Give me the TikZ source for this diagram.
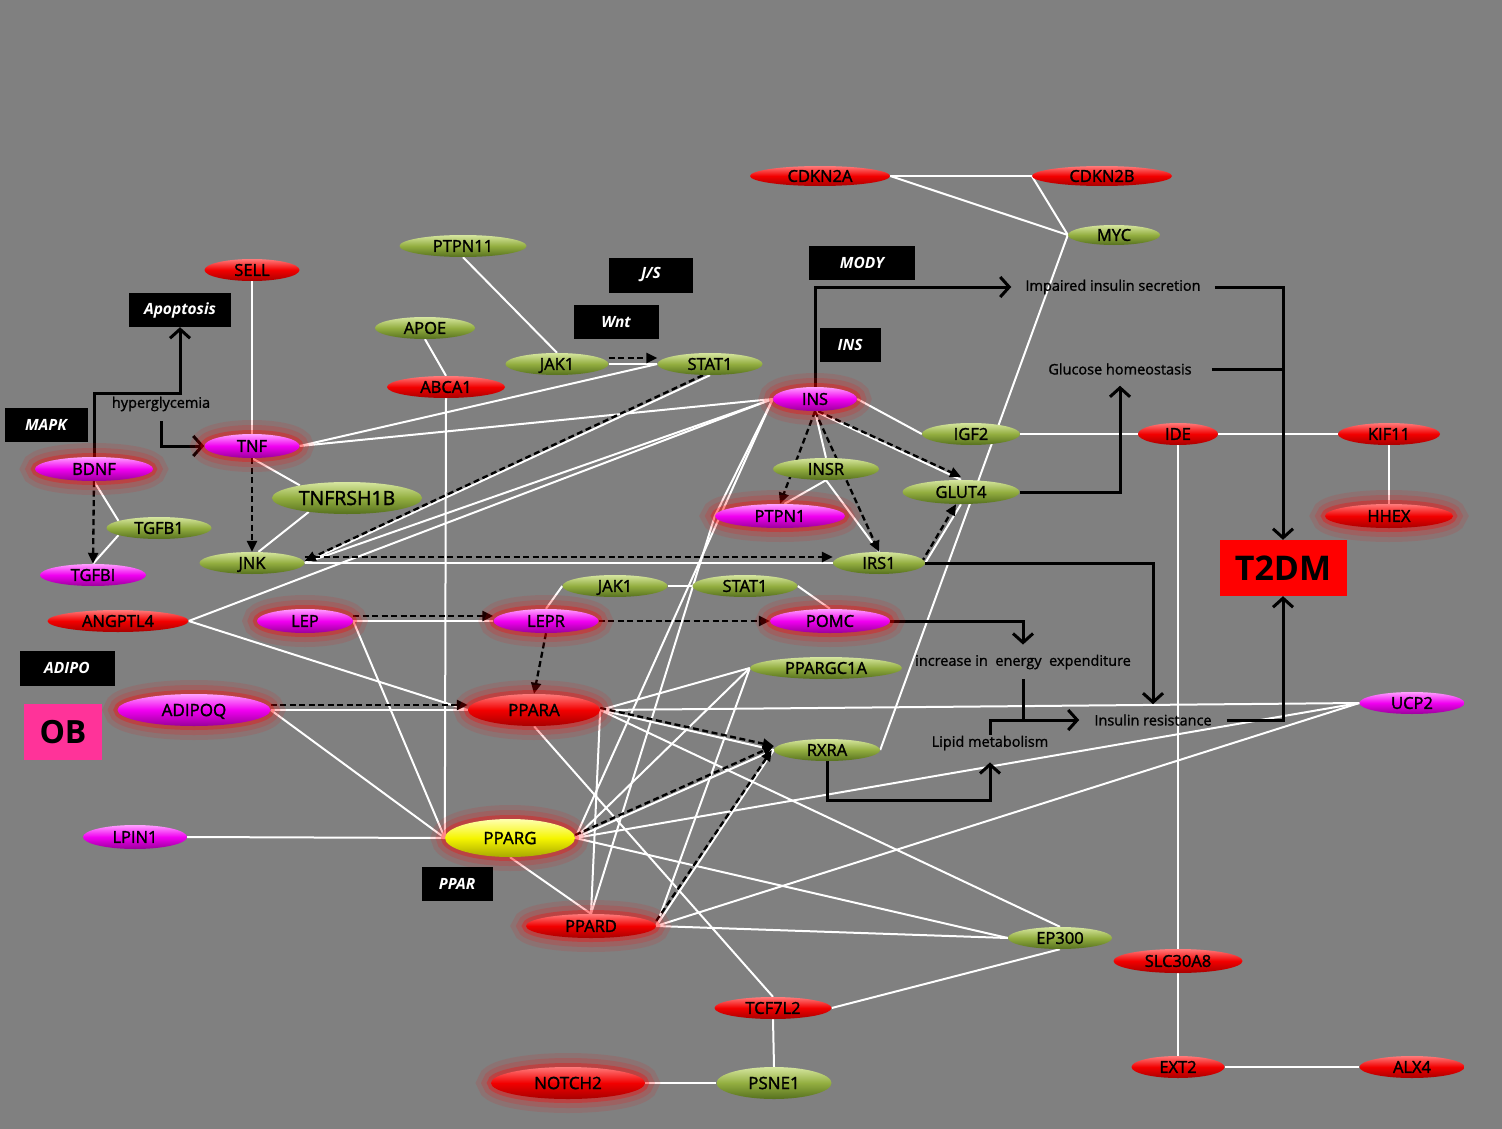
\documentclass[tikz,border=0pt]{standalone}
\usepackage{fontspec}
\setmainfont{Open Sans}
\newfontfamily\gf[FakeBold=1.6]{Open Sans}
\newfontfamily\pf[FakeBold=1.2]{Open Sans}
\usetikzlibrary{shapes.geometric,arrows.meta,calc}
\pgfdeclarelayer{bg}
\pgfdeclarelayer{edges}
\pgfsetlayers{bg,edges,main}
\definecolor{bggray}{HTML}{808080}
\definecolor{gmid}{HTML}{93AE40}
\definecolor{gtop}{HTML}{D6E6A0}
\definecolor{gbot}{HTML}{56701E}
\definecolor{rmid}{HTML}{F20000}
\definecolor{rtop}{HTML}{FF7A7A}
\definecolor{rbot}{HTML}{A80000}
\definecolor{mmid}{HTML}{F000F0}
\definecolor{mtop}{HTML}{FFA0FF}
\definecolor{mbot}{HTML}{9A009A}
\definecolor{ymid}{HTML}{F5F500}
\definecolor{ytop}{HTML}{FFFFB0}
\definecolor{ybot}{HTML}{A8A800}
\definecolor{obpink}{HTML}{FF3399}
\tikzset{
  gene/.style={ellipse, inner sep=0pt, text height=11.8pt, text depth=0pt, text=black,
    font=\gf\fontsize{16.5}{16.5}\selectfont},
  biggene/.style={gene, text height=12.2pt, font=\gf\fontsize{17}{17}\selectfont},
  sz/.style 2 args={minimum width=#1pt, minimum height=#2pt},
  gn/.style={top color=gtop, bottom color=gbot, middle color=gmid},
  rn/.style={top color=rtop, bottom color=rbot, middle color=rmid},
  mn/.style={top color=mtop, bottom color=mbot, middle color=mmid},
  yn/.style={top color=ytop, bottom color=ybot, middle color=ymid},
  glow/.style={preaction={draw=red, line width=28pt, opacity=0.10},
               preaction={draw=red, line width=18pt, opacity=0.15},
               preaction={draw=red, line width=8pt, opacity=0.30}},
  lbox/.style={fill=black, text=white, inner sep=0pt,
    font=\bfseries\itshape\fontsize{15.5}{15.5}\selectfont},
  plain/.style={text=black, inner sep=0pt, font=\pf\fontsize{14.5}{15}\selectfont},
  wl/.style={draw=white, line width=2pt},
  da/.style={draw=black, line width=2.3pt, dash pattern=on 6pt off 3.5pt,
    -{Triangle[length=11pt,width=10pt]}},
  blkl/.style={draw=black, line width=3pt},
  blk/.style={blkl, -{Straight Barb[length=9pt,width=20pt]}}
}
\begin{document}
\begin{tikzpicture}[x=1pt,y=-1pt]
\begin{pgfonlayer}{bg}
\fill[bggray] (0,0) rectangle (1502,1129);
\end{pgfonlayer}

% ---------- gene nodes ----------
\node[gene,rn,sz={140}{20}] (CDKN2A) at (820,176) {CDKN2A};
\node[gene,rn,sz={140}{20}] (CDKN2B) at (1102,176) {CDKN2B};
\node[gene,gn,sz={92}{20}] (MYC) at (1114,235) {MYC};
\node[gene,gn,sz={127}{22}] (PTPN11) at (463,246) {PTPN11};
\node[gene,rn,sz={95}{22}] (SELL) at (252,270) {SELL};
\node[gene,gn,sz={100}{22}] (APOE) at (425,328) {APOE};
\node[gene,gn,sz={103}{22}] (JAK1a) at (557,364) {JAK1};
\node[gene,gn,sz={105}{22}] (STAT1a) at (710,364) {STAT1};
\node[gene,rn,sz={118}{22}] (ABCA1) at (446,387) {ABCA1};
\node[gene,mn,glow,sz={84}{24}] (INS) at (815,399) {INS};
\node[gene,mn,glow,sz={95}{24}] (TNF) at (252,446) {TNF};
\node[gene,mn,glow,sz={118}{24}] (BDNF) at (94,469) {BDNF};
\node[biggene,gn,sz={150}{32},font=\gf\fontsize{19.5}{19.5}\selectfont,text height=14pt] (TNFRSH1B) at (347,498) {TNFRSH1B};
\node[gene,gn,sz={105}{22}] (TGFB1) at (159,528) {TGFB1};
\node[gene,mn,sz={106}{22}] (TGFBI) at (93,575) {TGFBI};
\node[gene,gn,sz={105}{22}] (JNK) at (252,563) {JNK};
\node[gene,gn,sz={106}{22}] (INSR) at (826,469) {INSR};
\node[gene,gn,sz={98}{22}] (IGF2) at (971,434) {IGF2};
\node[gene,gn,sz={117}{24}] (GLUT4) at (961,492) {GLUT4};
\node[gene,mn,glow,sz={130}{24}] (PTPN1) at (780,516) {PTPN1};
\node[gene,gn,sz={92}{22}] (IRS1) at (879,563) {IRS1};
\node[gene,rn,sz={80}{22}] (IDE) at (1178,434) {IDE};
\node[gene,rn,sz={102}{22}] (KIF11) at (1389,434) {KIF11};
\node[gene,rn,glow,sz={128}{24}] (HHEX) at (1389,516) {HHEX};
\node[gene,rn,sz={141}{22}] (ANGPTL4) at (118,621) {ANGPTL4};
\node[gene,mn,glow,sz={96}{24}] (LEP) at (305,621) {LEP};
\node[gene,gn,sz={105}{22}] (JAK1b) at (615,586) {JAK1};
\node[gene,gn,sz={105}{22}] (STAT1b) at (745,586) {STAT1};
\node[gene,mn,glow,sz={105}{24}] (LEPR) at (546,621) {LEPR};
\node[gene,mn,glow,sz={120}{24}] (POMC) at (830,621) {POMC};
\node[gene,gn,sz={152}{22}] (PPARGC1A) at (826,668) {PPARGC1A};
\node[biggene,mn,glow,sz={153}{32}] (ADIPOQ) at (194,710) {ADIPOQ};
\node[biggene,rn,glow,sz={132}{32}] (PPARA) at (534,710) {PPARA};
\node[gene,gn,sz={106}{22}] (RXRA) at (827,750) {RXRA};
\node[gene,mn,sz={105}{22}] (UCP2) at (1412,703) {UCP2};
\node[gene,mn,sz={104}{24}] (LPIN1) at (135,837) {LPIN1};
\node[biggene,yn,glow,sz={130}{38}] (PPARG) at (510,838) {PPARG};
\node[gene,rn,glow,sz={130}{24}] (PPARD) at (591,926) {PPARD};
\node[gene,gn,sz={104}{22}] (EP300) at (1060,938) {EP300};
\node[gene,rn,sz={129}{24}] (SLC30A8) at (1178,961) {SLC30A8};
\node[gene,rn,sz={117}{22}] (TCF7L2) at (773,1008) {TCF7L2};
\node[biggene,rn,glow,sz={154}{32}] (NOTCH2) at (568,1083) {NOTCH2};
\node[biggene,gn,sz={115}{32}] (PSNE1) at (774,1083) {PSNE1};
\node[gene,rn,sz={93}{22}] (EXT2) at (1178,1067) {EXT2};
\node[gene,rn,sz={105}{22}] (ALX4) at (1412,1067) {ALX4};

% ---------- black label boxes ----------
\node[lbox,sz={102}{34}] (Apop) at (180,310) {Apoptosis};
\node[lbox,sz={83}{34}] (MAPK) at (46,425) {MAPK};
\node[lbox,sz={84}{35}] (JS) at (651,275) {J/S};
\node[lbox,sz={85}{34}] (Wnt) at (616,322) {Wnt};
\node[lbox,sz={106}{34}] (MODY) at (862,263) {MODY};
\node[lbox,sz={61}{34}] (INSbox) at (850,345) {INS};
\node[lbox,sz={95}{35}] (ADIPO) at (67,668) {ADIPO};
\node[lbox,sz={71}{34}] (PPAR) at (457,884) {PPAR};
\node[fill=obpink, inner sep=0pt, sz={78}{56}, font=\bfseries\fontsize{32}{32}\selectfont] (OB) at (63,732) {OB};
\node[fill=red, inner sep=0pt, sz={127}{56}, font=\bfseries\fontsize{34}{34}\selectfont] (T2DM) at (1283,568) {T2DM};

% ---------- process texts ----------
\node[plain, inner ysep=10pt] (hyp) at (161,404) {hyperglycemia};
\node[plain, inner xsep=14pt] (Imp) at (1113,287) {Impaired insulin secretion};
\node[plain, inner xsep=20pt, inner ysep=11pt] (Glu) at (1120,369) {Glucose homeostasis};
\node[plain, inner ysep=10pt] (Energy) at (1023,662) {increase in\ \ energy\ \ expenditure};
\node[plain, inner xsep=15pt, inner ysep=10pt] (IR) at (1153,720) {Insulin resistance};
\node[plain, inner ysep=12pt] (Lip) at (990,743) {Lipid metabolism};

\coordinate (bdc) at (180,393);
\coordinate (rxc) at (990,800);

\begin{pgfonlayer}{edges}
% white undirected links
\foreach \a/\b in {CDKN2A.east/CDKN2B.west, CDKN2A.east/MYC.west, CDKN2B.west/MYC.west,
  MYC.west/RXRA.east, PTPN11.south/JAK1a.north, APOE.south/ABCA1.north,
  ABCA1.south/PPARG.west, SELL.south/TNF.north, TNF.east/STAT1a.west, TNF.east/INS.west,
  TNF.south/TNFRSH1B.165, TNFRSH1B.200/JNK.60, BDNF.south/TGFB1.170, TGFB1.190/TGFBI.north,
  JNK.east/STAT1a.south, JNK.east/INS.west, ANGPTL4.east/INS.west, ANGPTL4.east/PPARA.west,
  JNK.east/IRS1.west, JAK1a.east/STAT1a.west, INS.east/IGF2.west, INS.south/INSR.north, INS.south/GLUT4.north,
  INSR.south/PTPN1.70, INSR.south/IRS1.north, IRS1.east/GLUT4.south, IGF2.east/IDE.west,
  IDE.east/KIF11.west, IDE.south/SLC30A8.north, SLC30A8.south/EXT2.north, EXT2.east/ALX4.west,
  KIF11.south/HHEX.north, INS.west/PPARG.east, INS.west/PTPN1.west, PTPN1.west/PPARD.north,
  LEP.east/LEPR.west, LEP.east/PPARG.west, LEPR.north/JAK1b.west, JAK1b.east/STAT1b.west,
  STAT1b.east/POMC.north, ADIPOQ.east/PPARA.west, ADIPOQ.east/PPARG.west, LPIN1.east/PPARG.west,
  PPARA.east/PPARGC1A.west, PPARA.east/UCP2.west, PPARA.east/RXRA.west, PPARA.east/EP300.north,
  PPARA.east/PPARD.north, PPARA.south/TCF7L2.north, PPARG.east/PPARGC1A.west, PPARG.east/RXRA.west,
  PPARG.east/UCP2.west, PPARG.east/EP300.west, PPARG.south/PPARD.north, PPARD.east/PPARGC1A.west,
  PPARD.east/RXRA.west, PPARD.east/UCP2.west, PPARD.east/EP300.west, TCF7L2.east/EP300.south,
  TCF7L2.south/PSNE1.north, NOTCH2.east/PSNE1.west}
  {\draw[wl] (\a) -- (\b);}

% dashed activation arrows
\draw[da] (BDNF.south) -- (TGFBI.north);
\draw[da] (TNF.south) -- (JNK.north);
\draw[da] ([yshift=6pt]JAK1a.east) -- ([yshift=6pt]STAT1a.west);
\draw[da] ([xshift=-7pt]STAT1a.south) -- ([yshift=2pt]JNK.east);
\draw[da] (INS.south) -- (PTPN1.north);
\draw[da] (INS.south) -- (IRS1.north);
\draw[da] ([xshift=3pt]INS.south) -- ([yshift=3pt]GLUT4.north);
\draw[da] ([xshift=-4pt]IRS1.east) -- ([xshift=-5pt]GLUT4.south);
\draw[da] ([yshift=6pt]JNK.east) -- ([yshift=6pt]IRS1.west);
\draw[da] ([yshift=5pt]LEP.east) -- ([yshift=5pt]LEPR.west);
\draw[da] (LEPR.east) -- (POMC.west);
\draw[da] (LEPR.south) -- (PPARA.north);
\draw[da] ([yshift=5pt]ADIPOQ.east) -- ([yshift=5pt]PPARA.west);
\draw[da] ([yshift=2pt]PPARA.east) -- ([yshift=4pt]RXRA.west);
\draw[da] ([yshift=3pt]PPARG.east) -- ([yshift=4pt]RXRA.west);
\draw[da] ([yshift=5pt]PPARD.east) -- ([xshift=-2pt]RXRA.west);

% black process arrows
\draw[blk] (BDNF.north) |- (bdc) -- (Apop.south);
\draw[blk] (hyp.south) |- (TNF.west);
\draw[blk] (INS.north) |- (Imp.west);
\draw[blk] (Imp.east) -| (T2DM.north);
\draw[blkl] (Glu.east) -- (Glu.east -| T2DM.north);
\draw[blk] (GLUT4.east) -| (Glu.south);
\draw[blk] (IRS1.east) -| (IR.north);
\draw[blk] (POMC.east) -| (Energy.north);
\draw[blkl] (Energy.south) -- (Energy.south |- IR.west);
\draw[blk] ([yshift=-11pt]Lip.north) |- (IR.west);
\draw[blk] (IR.east) -| (T2DM.south);
\draw[blk] (RXRA.south) |- (rxc) -- (Lip.south);
\end{pgfonlayer}
\end{tikzpicture}
\end{document}
